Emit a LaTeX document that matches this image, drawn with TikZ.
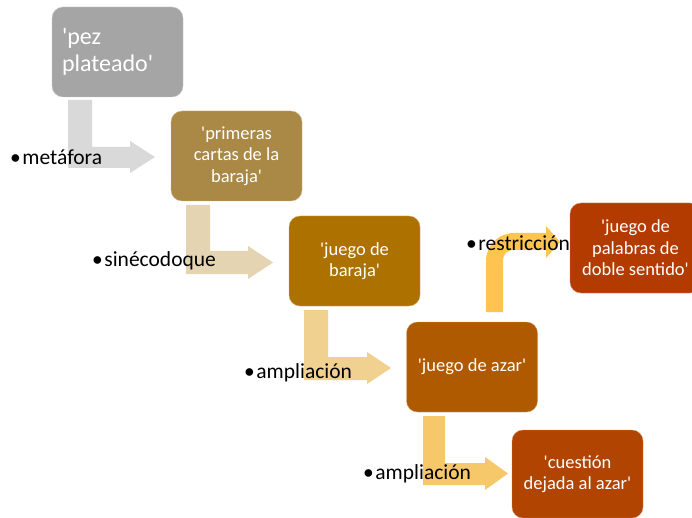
\documentclass[tikz,border=0pt]{standalone}
\usepackage{fontspec}
\setmainfont{Carlito}[Ligatures=TeXOff]
\begin{document}
\begin{tikzpicture}[x=1pt,y=-1pt,
  box/.style={rounded corners=11pt, minimum width=131pt, minimum height=90pt,
    inner sep=0pt, text=white, font=\fontsize{18.5}{21.5}\selectfont, align=center},
  lbl/.style={anchor=west, inner sep=0pt, font=\fontsize{21.5}{24}\selectfont, text=black}]
\useasboundingbox (0,0) rectangle (692,518);
\clip (0,0) rectangle (692,518);
\definecolor{cA}{HTML}{A5A5A5}
\definecolor{cB}{HTML}{AA8845}
\definecolor{cC}{HTML}{AD7100}
\definecolor{cD}{HTML}{B05A00}
\definecolor{cE}{HTML}{B04400}
\definecolor{cF}{HTML}{B33B00}
\definecolor{aA}{HTML}{D9D9D9}
\definecolor{aB}{HTML}{E4D4B1}
\definecolor{aC}{HTML}{F0D18F}
\definecolor{aD}{HTML}{F6C86A}
\definecolor{aE}{HTML}{FFC34F}

% bent arrows
\fill[aA] (68,100) -- (92,100) -- (92,147) -- (130,147) -- (130,141) -- (155,157) -- (130,173) -- (130,168) -- (68,168) -- cycle;
\fill[aB] (186,205) -- (210,205) -- (210,251) -- (248,251) -- (248,246) -- (273,262.5) -- (248,279) -- (248,274) -- (186,274) -- cycle;
\fill[aC] (304,310) -- (328,310) -- (328,357) -- (367,357) -- (367,352) -- (391,368) -- (367,384) -- (367,380) -- (304,380) -- cycle;
\fill[aD] (423,416) -- (445,416) -- (445,463) -- (485,463) -- (485,457) -- (508,473.5) -- (485,490) -- (485,485) -- (423,485) -- cycle;
\fill[aE] (486,312) -- (486,261) .. controls (486,245.5) and (498.5,233) .. (514,233)
  -- (546,233) -- (546,226) -- (560,242) -- (546,258) -- (546,250) -- (513,250)
  .. controls (507.5,250) and (503,254.5) .. (503,260) -- (503,312) -- cycle;

% boxes
\node[box, fill=cA, draw=cA!60!white, text width=111pt, inner xsep=10pt, align=left, font=\fontsize{24}{27}\selectfont] (p1) at (117.5,52) {'pez\\plateado'};
\node[box, fill=cB, draw=cB!60!white] (p2) at (236.5,156) {'primeras\\cartas de la\\baraja'};
\node[box, fill=cC, draw=cC!60!white] (p3) at (354.5,261) {'juego de\\baraja'};
\node[box, fill=cD, draw=cD!60!white] (p4) at (472,367) {'juego de azar'};
\node[box, fill=cE, draw=cE!60!white, minimum height=88pt] (p5) at (577.5,474) {'cuestión\\dejada al azar'};
\node[box, fill=cF, draw=cF!60!white] (p6) at (635.5,248) {'juego de\\palabras de\\doble sentido'};

% labels
\node[lbl] (l1) at (10,157) {\textbullet\hspace{1.5pt}metáfora};
\node[lbl] (l2) at (92,261) {\textbullet\hspace{1.5pt}sinécodoque};
\node[lbl] (l3) at (244,373) {\textbullet\hspace{1.5pt}ampliación};
\node[lbl] (l4) at (466,243) {\textbullet\hspace{1.5pt}restricción};
\node[lbl] (l5) at (363,474) {\textbullet\hspace{1.5pt}ampliación};
\end{tikzpicture}
\end{document}
